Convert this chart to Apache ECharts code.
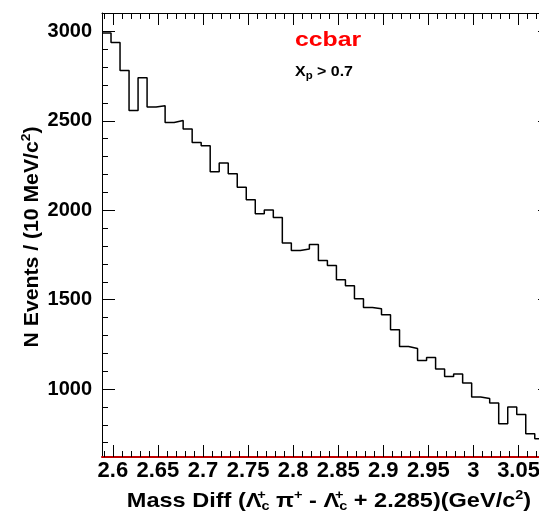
<!DOCTYPE html>
<html><head><meta charset="utf-8">
<script src="https://cdn.jsdelivr.net/npm/echarts@6/dist/echarts.min.js"></script>
<style>html,body{margin:0;padding:0;background:#fff}#c{width:539px;height:515px}</style>
</head><body><div id="c"></div>
<script>
// ---- data ----
const binStart = 2.588;
const binWidth = 0.01;
const counts = [2991,2938,2782,2558,2741,2577,2584,2491,2502,2454,
                2379,2361,2215,2264,2204,2128,2059,1980,2001,1960,
                1817,1775,1783,1809,1719,1691,1611,1578,1505,1456,
                1449,1416,1332,1238,1227,1160,1177,1112,1070,1084,
                1034,955,947,922,806,899,858,750,722];
const xRange = [2.588, 3.086];
const yRange = [620, 3103];
const xMajorTicks = [2.6, 2.65, 2.7, 2.75, 2.8, 2.85, 2.9, 2.95, 3, 3.05];
const yMajorTicks = [1000, 1500, 2000, 2500, 3000];
const yMinorStep = 100;

// ---- derived ----
const xMinorTicks = [];
for (let k = Math.ceil(xRange[0] * 100); k <= Math.floor(xRange[1] * 100); k++) xMinorTicks.push(k / 100);
const yMinorTicks = [];
for (let v = Math.ceil(yRange[0] / yMinorStep) * yMinorStep; v <= yRange[1]; v += yMinorStep) yMinorTicks.push(v);

const histPts = counts.map((c, i) => [binStart + i * binWidth, c]);
histPts.push([binStart + counts.length * binWidth, counts[counts.length - 1]]);

const FF = '"Liberation Sans", Arial, Helvetica, sans-serif';
const gridRect = {left: 102, top: 13, width: 449, height: 444, outerBoundsMode: 'none', containLabel: false};

function xAx(grid, pos, ticks, len, labels, lineColor, lineW, showLine) {
  return {
    type: 'value', gridIndex: grid, position: pos, min: xRange[0], max: xRange[1],
    axisLine: {show: showLine, lineStyle: {color: lineColor, width: lineW}},
    axisTick: {show: true, inside: true, length: len, customValues: ticks, lineStyle: {color: '#000', width: 1}},
    axisLabel: labels ? {show: true, customValues: xMajorTicks, margin: 3, color: '#000',
      fontFamily: FF, fontWeight: 'bold', fontSize: 22, formatter: v => String(v)} : {show: false},
    splitLine: {show: false}
  };
}
function yAx(grid, pos, ticks, len, labels, showLine) {
  return {
    type: 'value', gridIndex: grid, position: pos, min: yRange[0], max: yRange[1],
    axisLine: {show: showLine, lineStyle: {color: '#000', width: 1}},
    axisTick: {show: true, inside: true, length: len, customValues: ticks, lineStyle: {color: '#000', width: 1}},
    axisLabel: labels ? {show: true, customValues: yMajorTicks, margin: 10, color: '#000',
      fontFamily: FF, fontWeight: 'bold', fontSize: 20, formatter: v => String(v)} : {show: false},
    splitLine: {show: false}
  };
}

const small = {fontSize: 13, fontWeight: 'bold', fontFamily: FF, color: '#000'};
const chart = echarts.init(document.getElementById('c'), null, {renderer: 'canvas'});
chart.setOption({
  animation: false,
  backgroundColor: '#fff',
  grid: [Object.assign({}, gridRect), Object.assign({}, gridRect)],
  xAxis: [
    xAx(0, 'bottom', xMajorTicks, 12, true, '#c00000', 2, true),
    xAx(0, 'top', xMajorTicks, 12, false, '#000', 1, true),
    xAx(1, 'bottom', xMinorTicks, 6, false, '#c00000', 2, false),
    xAx(1, 'top', xMinorTicks, 6, false, '#000', 1, false)
  ],
  yAxis: [
    yAx(0, 'left', yMajorTicks, 13, true, true),
    yAx(0, 'right', yMajorTicks, 13, false, true),
    yAx(1, 'left', yMinorTicks, 6, false, false),
    yAx(1, 'right', yMinorTicks, 6, false, false)
  ],
  series: [{
    type: 'line', xAxisIndex: 0, yAxisIndex: 0, step: 'end', symbol: 'none',
    data: histPts, lineStyle: {color: '#000', width: 1.5}, z: 5
  }],
  graphic: [
    {type: 'text', x: 32, y: 237, rotation: Math.PI / 2, scaleX: 1.06, style: {
      text: 'N Events / (10 MeV/c{sup|2})', fill: '#000', align: 'center', verticalAlign: 'middle',
      font: 'bold 20px ' + FF,
      rich: {sup: Object.assign({}, small, {padding: [0, 0, 12, 0]})}
    }},
    {type: 'text', x: 329, y: 501, scaleX: 1.12, style: {
      text: 'Mass Diff (Λ{supz|+}{sub|c} π{sup|+} - Λ{supz|+}{sub|c} + 2.285)(GeV/c{sup|2})',
      fill: '#000', align: 'center', verticalAlign: 'middle', font: 'bold 21px ' + FF,
      rich: {
        sup: Object.assign({}, small, {padding: [0, 0, 12, 0]}),
        supz: Object.assign({}, small, {width: 0, padding: [0, 0, 12, 0]}),
        sub: Object.assign({}, small, {padding: [10, 0, 0, 0]})
      }
    }},
    {type: 'text', x: 328, y: 40, scaleX: 1.24, style: {
      text: 'ccbar', fill: '#ff0000', align: 'center', verticalAlign: 'middle', font: 'bold 20px ' + FF
    }},
    {type: 'text', x: 295, y: 72, scaleX: 1.14, style: {
      text: 'X{sub|p} > 0.7', fill: '#000', align: 'left', verticalAlign: 'middle', font: 'bold 14px ' + FF,
      rich: {sub: {fontSize: 10, fontWeight: 'bold', fontFamily: FF, color: '#000', padding: [8, 0, 0, 0]}}
    }}
  ]
});
</script></body></html>
